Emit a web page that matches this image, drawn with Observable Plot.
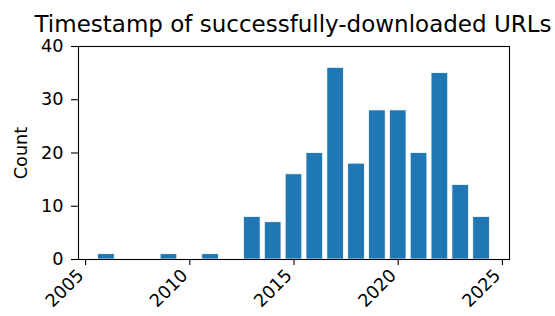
<!DOCTYPE html>
<html>
<head>
<meta charset="utf-8">
<script src="https://cdn.jsdelivr.net/npm/d3@7"></script>
<script src="https://cdn.jsdelivr.net/npm/@observablehq/plot@0.6"></script>
<style>
  html, body { margin: 0; padding: 0; background: #fff; }
  #title { position: relative; height: 38px; width: 555px; font-family: "DejaVu Sans", sans-serif; font-size: 23px; color: #000; line-height: normal; }
  #title span { position: absolute; left: 293px; top: 11px; transform: translateX(-50%); white-space: nowrap; }
</style>
</head>
<body>
<div id="title"><span>Timestamp of successfully-downloaded URLs</span></div>
<div id="chart"></div>
<script>
const years = [2006, 2009, 2011, 2013, 2014, 2015, 2016, 2017, 2018, 2019, 2020, 2021, 2022, 2023, 2024];
const counts = [1, 1, 1, 8, 7, 16, 20, 36, 18, 28, 28, 20, 35, 14, 8];
const xTicks = [2005, 2010, 2015, 2020, 2025];
const yTicks = [0, 10, 20, 30, 40];

const data = years.map((y, i) => ({year: y, count: counts[i]}));

const chart = Plot.plot({
  width: 555,
  height: 278,
  marginLeft: 78,
  marginRight: 46,
  marginTop: 8,
  marginBottom: 57,
  style: {fontFamily: "DejaVu Sans, sans-serif", fontSize: "17.7px", color: "#000", background: "#fff", overflow: "visible"},
  x: {domain: [2004.66, 2025.34]},
  y: {domain: [0, 40]},
  marks: [
    Plot.rectY(data, {x1: d => d.year - 0.4, x2: d => d.year + 0.4, y: "count", fill: "#1f77b4", stroke: "#ffffff", strokeWidth: 0.8}),
    Plot.frame({stroke: "#000", strokeWidth: 1.1}),
    Plot.axisX({ticks: xTicks, tickSize: 6, label: null, strokeWidth: 1.1, text: null}),
    Plot.axisX({ticks: xTicks, tickFormat: d => String(d), tickSize: 0, tickPadding: 13, tickRotate: -45, label: null, dx: -5}),
    Plot.axisY({ticks: yTicks, tickSize: 7, tickPadding: 8, label: "Count", labelAnchor: "center", labelArrow: "none", labelOffset: 64, strokeWidth: 1.1})
  ]
});
document.getElementById("chart").appendChild(chart);
</script>
</body>
</html>
